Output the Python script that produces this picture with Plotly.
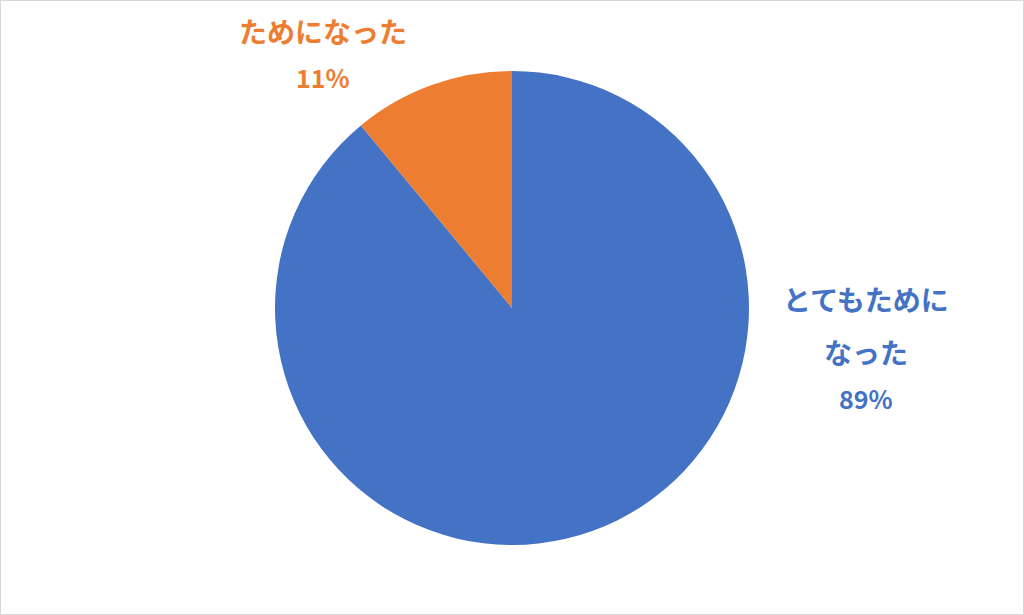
import textwrap

import plotly.graph_objs as go

# Survey answers and their shares (%)
labels = ["とてもためになった", "ためになった"]
values = [89, 11]
colors = ["#4472C4", "#ED7D31"]

W, H = 1024, 615

# Label block centres (pixels, from top-left) and line spacing
label_pos = [(866, 299), (323, 31)]
name_gap = 53
pct_gap = 46

fig = go.Figure(
    go.Pie(
        labels=labels,
        values=values,
        sort=False,
        direction="clockwise",
        rotation=0,
        marker=dict(colors=colors, line=dict(width=0)),
        textinfo="none",
        hoverinfo="label+percent",
        showlegend=False,
        domain=dict(x=[275 / W, 749 / W], y=[1 - 545 / H, 1 - 71 / H]),
    )
)

font_family = "Noto Sans CJK JP, Noto Sans, sans-serif"
total = sum(values)
annotations = []
for label, value, color, (px_x, px_y) in zip(labels, values, colors, label_pos):
    # wrap long names the way the original chart does (6 chars per line)
    lines = textwrap.wrap(label, 6)
    lines.append(f"{round(100 * value / total)}%")
    y = px_y
    for i, line in enumerate(lines):
        is_pct = i == len(lines) - 1
        annotations.append(
            dict(
                text=f"<b>{line}</b>",
                x=px_x / W,
                y=1 - y / H,
                xref="paper",
                yref="paper",
                xanchor="center",
                yanchor="middle",
                showarrow=False,
                font=dict(family=font_family, size=25 if is_pct else 28, color=color),
            )
        )
        y += name_gap if i < len(lines) - 2 else pct_gap

fig.update_layout(
    width=W,
    height=H,
    margin=dict(l=0, r=0, t=0, b=0),
    paper_bgcolor="white",
    plot_bgcolor="white",
    annotations=annotations,
    shapes=[
        dict(
            type="rect",
            xref="paper",
            yref="paper",
            x0=0,
            y0=0,
            x1=1,
            y1=1,
            line=dict(color="#D9D9D9", width=2),
        )
    ],
)

# drop the default page margin so the chart sits at the window corner
fig.write_html(
    "out.html",
    config={"displayModeBar": False},
    post_script="document.body.style.margin='0';",
)
